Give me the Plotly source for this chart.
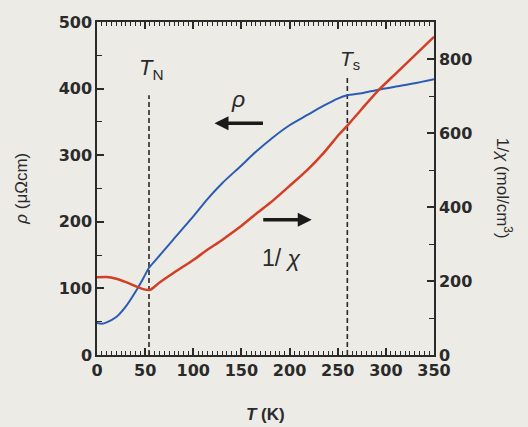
import plotly.graph_objects as go

# ---- data ----
T_rho = [0, 5, 10, 20, 30, 40, 48, 54, 60, 79, 100, 114, 130, 148, 165, 183, 200, 218, 235, 250, 260, 275, 291, 310, 330, 350]
rho = [48, 47, 49, 57, 73, 95, 115, 131, 141, 173, 208, 233, 258, 282, 305, 327, 345, 360, 374, 385, 390, 393, 398, 403, 408, 414]

T_chi = [0, 10, 20, 30, 40, 48, 55, 65, 79, 100, 114, 130, 148, 165, 183, 200, 218, 235, 252, 260, 275, 291, 310, 330, 350]
inv_chi = [210, 211, 206, 197, 186, 178, 176, 196, 221, 257, 283, 311, 345, 381, 418, 457, 499, 545, 598, 620, 665, 712, 760, 810, 860]

T_N = 54
T_S = 260
TN_line_top = 390   # in rho units
TS_line_top = 420

x_ticks = [0, 50, 100, 150, 200, 250, 300, 350]
y_ticks = [0, 100, 200, 300, 400, 500]
y2_ticks = [0, 200, 400, 600, 800]

BLUE = "#2a5cb4"
RED = "#d23f26"
INK = "#2a2a2a"
BG = "#ecebe6"

fig = go.Figure()

fig.add_trace(go.Scatter(x=[T_N, T_N], y=[0, TN_line_top], mode="lines",
                         line=dict(color=INK, width=1.6, dash="5px,3px"), showlegend=False, hoverinfo="skip"))
fig.add_trace(go.Scatter(x=[T_S, T_S], y=[0, TS_line_top], mode="lines",
                         line=dict(color=INK, width=1.6, dash="5px,3px"), showlegend=False, hoverinfo="skip"))

fig.add_trace(go.Scatter(x=T_rho, y=rho, mode="lines", yaxis="y",
                         line=dict(color=BLUE, width=2, shape="spline", smoothing=0.6), showlegend=False))
fig.add_trace(go.Scatter(x=T_chi, y=inv_chi, mode="lines", yaxis="y2",
                         line=dict(color=RED, width=2.5, shape="spline", smoothing=0.6), showlegend=False))

tickfont = dict(family="DejaVu Sans", size=16, color=INK, weight="bold")

fig.update_layout(
    width=528, height=427,
    margin=dict(l=97, r=94, t=22, b=72),
    paper_bgcolor=BG, plot_bgcolor=BG,
    showlegend=False,
    xaxis=dict(range=[0, 350], tickvals=x_ticks, ticks="inside", ticklen=7, tickwidth=1.5, tickcolor=INK,
               showline=True, linecolor=INK, linewidth=1.5, mirror="ticks", showgrid=False, zeroline=False,
               tickfont=tickfont,
               minor=dict(dtick=5, ticks="inside", ticklen=4, tickwidth=1.2, tickcolor=INK, showgrid=False)),
    yaxis=dict(range=[0, 500], tickvals=y_ticks, ticks="inside", ticklen=7, tickwidth=1.5, tickcolor=INK,
               showline=True, linecolor=INK, linewidth=1.5, showgrid=False, zeroline=False,
               tickfont=tickfont,
               minor=dict(dtick=50, ticks="inside", ticklen=5, tickwidth=1.2, tickcolor=INK, showgrid=False)),
    yaxis2=dict(range=[0, 900], tickvals=y2_ticks, ticks="inside", ticklen=7, tickwidth=1.5, tickcolor=INK,
                overlaying="y", side="right", showline=True, linecolor=INK, linewidth=1.5,
                showgrid=False, zeroline=False, tickfont=tickfont,
                minor=dict(dtick=100, ticks="inside", ticklen=5, tickwidth=1.2, tickcolor=INK, showgrid=False)),
)

ann_font = dict(family="Liberation Sans", color=INK)
annotations = [
    # axis titles
    dict(text="<i>ρ</i> (μΩcm)", xref="paper", yref="paper", x=-0.225, y=0.5, textangle=-90,
         showarrow=False, font=dict(size=17, **ann_font), xanchor="center", yanchor="middle"),
    dict(text="1/<i>χ</i> (mol/cm<sup>3</sup>)", xref="paper", yref="paper", x=1.21, y=0.5, textangle=90,
         showarrow=False, font=dict(size=17, **ann_font), xanchor="center", yanchor="middle"),
    dict(text="<i>T</i> (K)", xref="paper", yref="paper", x=0.5, y=-0.18,
         showarrow=False, font=dict(size=17, **ann_font, weight="bold"), xanchor="center", yanchor="middle"),
    # labels in plot
    dict(text="<i>T</i><sub>N</sub>", x=57, y=430, xref="x", yref="y", showarrow=False,
         font=dict(size=22, **ann_font)),
    dict(text="<i>T</i><sub>s</sub>", x=263, y=443, xref="x", yref="y", showarrow=False,
         font=dict(size=21, **ann_font)),
    dict(text="<i>ρ</i>", x=146, y=385, xref="x", yref="y", showarrow=False,
         font=dict(size=23, **ann_font)),
    dict(text="1/ <i>χ</i>", x=192, y=146, xref="x", yref="y", showarrow=False,
         font=dict(size=23, **ann_font)),
    # arrows
    dict(x=122, y=348, xref="x", yref="y", ax=50, ay=0, axref="pixel", ayref="pixel", text="",
         showarrow=True, arrowhead=2, arrowsize=0.8, arrowwidth=3.5, arrowcolor="#1a1a1a"),
    dict(x=223, y=203, xref="x", yref="y", ax=-50, ay=0, axref="pixel", ayref="pixel", text="",
         showarrow=True, arrowhead=2, arrowsize=0.8, arrowwidth=3.5, arrowcolor="#1a1a1a"),
]
fig.update_layout(annotations=annotations)

fig.write_html("out.html", config={"displayModeBar": False},
               post_script="document.body.style.margin='0';document.body.style.background='%s';" % BG)
